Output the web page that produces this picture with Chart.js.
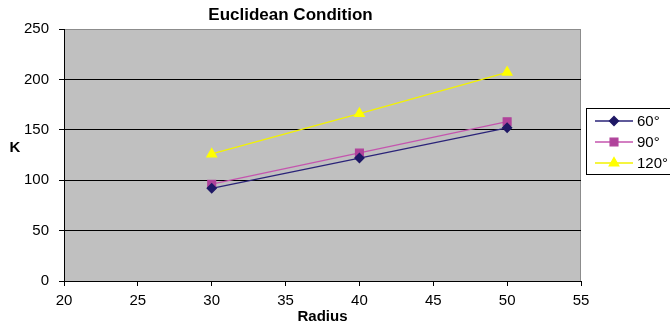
<!DOCTYPE html>
<html>
<head>
<meta charset="utf-8">
<script src="https://cdn.jsdelivr.net/npm/chart.js@4/dist/chart.umd.min.js"></script>
<style>
  html, body { margin: 0; padding: 0; background: #fff; }
  #wrap { width: 670px; height: 327px; }
</style>
</head>
<body>
<div id="wrap"><canvas id="myChart"></canvas></div>
<script>
const radius = [30, 40, 50];
const seriesNames = ['60°', '90°', '120°'];
const k60 = [92, 122, 152];
const k90 = [96, 127, 158];
const k120 = [126, 166, 207];
const xTicks = [20, 25, 30, 35, 40, 45, 50, 55];
const yTicks = [0, 50, 100, 150, 200, 250];

const FONT = "'Liberation Sans', Arial, sans-serif";

function pts(vals) {
    return radius.map((r, i) => ({ x: r, y: vals[i] }));
}

const styles = [
    { line: '#2a2378', fill: '#1f1865', shape: 'rectRot', r: 4.5 },
    { line: '#c455ae', fill: '#b0439b', shape: 'rect', r: 5.5 },
    { line: '#f2f200', fill: '#ffff00', shape: 'triangle', r: 5.5 }
];
const seriesValues = [k60, k90, k120];

const datasets = seriesNames.map((name, i) => ({
    label: name,
    data: pts(seriesValues[i]),
    borderColor: styles[i].line,
    backgroundColor: styles[i].fill,
    pointBackgroundColor: styles[i].fill,
    pointBorderColor: styles[i].fill,
    pointStyle: styles[i].shape,
    pointRadius: styles[i].r,
    borderWidth: 1.3,
    tension: 0
}));

// gray plot area + frame, "K" label and the boxed legend
const decor = {
    id: 'decor',
    beforeDraw(chart) {
        const { ctx, chartArea: a } = chart;
        ctx.save();
        ctx.fillStyle = '#c0c0c0';
        ctx.fillRect(a.left, a.top, a.right - a.left, a.bottom - a.top);
        ctx.strokeStyle = '#8c8c8c';
        ctx.lineWidth = 1;
        ctx.beginPath();
        ctx.moveTo(a.left, a.top + 0.5);
        ctx.lineTo(a.right - 0.5, a.top + 0.5);
        ctx.lineTo(a.right - 0.5, a.bottom);
        ctx.stroke();
        ctx.restore();
    },
    afterDraw(chart) {
        const ctx = chart.ctx;
        ctx.save();
        ctx.fillStyle = '#000';
        ctx.font = 'bold 15px ' + FONT;
        ctx.textAlign = 'center';
        ctx.textBaseline = 'middle';
        ctx.fillText('K', 15, 148);

        // legend box
        ctx.fillStyle = '#fff';
        ctx.fillRect(586.5, 108.5, 100, 66);
        ctx.strokeStyle = '#000';
        ctx.lineWidth = 1;
        ctx.strokeRect(586.5, 108.5, 100, 66);
        ctx.font = '15px ' + FONT;
        ctx.textAlign = 'left';
        chart.data.datasets.forEach((ds, i) => {
            const y = 121 + 21 * i;
            ctx.strokeStyle = ds.borderColor;
            ctx.lineWidth = 1.3;
            ctx.beginPath();
            ctx.moveTo(595, y);
            ctx.lineTo(633, y);
            ctx.stroke();
            ctx.fillStyle = ds.pointBackgroundColor;
            ctx.strokeStyle = ds.pointBorderColor;
            Chart.helpers.drawPoint(ctx, { pointStyle: ds.pointStyle, radius: ds.pointRadius, rotation: 0, borderWidth: 1 }, 614, y);
            ctx.fillStyle = '#000';
            ctx.fillText(ds.label, 637, y + 1);
        });
        ctx.restore();
    }
};

const config = {
    type: 'line',
    data: { datasets: datasets },
    options: {
        responsive: true,
        maintainAspectRatio: false,
        animation: false,
        layout: { padding: { left: 0, right: 89, top: 0, bottom: 0 } },
        scales: {
            x: {
                type: 'linear',
                min: 20,
                max: 55,
                afterBuildTicks: (s) => { s.ticks = xTicks.map(v => ({ value: v })); },
                afterFit: (s) => { s.height = 46; },
                grid: { drawOnChartArea: false, drawTicks: true, tickLength: 5, tickColor: '#000' },
                border: { color: '#000', width: 1 },
                ticks: { color: '#000', font: { family: FONT, size: 15 }, padding: 6, maxRotation: 0 },
                title: {
                    display: true,
                    text: 'Radius',
                    color: '#000',
                    font: { family: FONT, size: 15, weight: 'bold' },
                    padding: { top: 0, bottom: 1 }
                }
            },
            y: {
                min: 0,
                max: 250,
                afterBuildTicks: (s) => { s.ticks = yTicks.map(v => ({ value: v })); },
                afterFit: (s) => { s.width = 64; },
                grid: {
                    color: (c) => c.tick && c.tick.value === 250 ? '#8c8c8c' : '#000',
                    tickColor: '#000',
                    tickLength: 5,
                    lineWidth: 1
                },
                border: { color: '#000', width: 1 },
                ticks: { color: '#000', font: { family: FONT, size: 15 }, padding: 10 }
            }
        },
        plugins: {
            legend: { display: false },
            tooltip: { enabled: false },
            title: {
                display: true,
                text: 'Euclidean Condition',
                color: '#000',
                font: { family: FONT, size: 17, weight: 'bold' },
                padding: { top: 5, bottom: 3.6 }
            }
        }
    },
    plugins: [decor]
};

new Chart(document.getElementById('myChart'), config);
</script>
</body>
</html>
